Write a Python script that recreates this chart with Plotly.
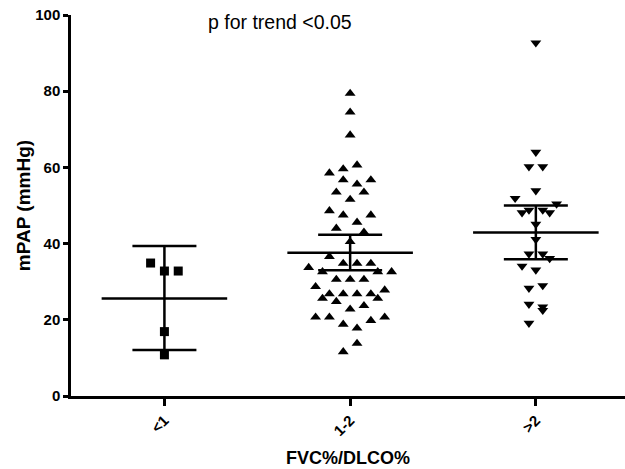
import plotly.graph_objects as go

# ---- data ----
categories = ["<1", "1-2", ">2"]

# group "<1" (squares)
g1_values = [34.9, 32.8, 32.8, 16.9, 10.8]
g1_slots = [-2, 0, 2, 0, 0]

# group "1-2" (triangles up)
g2_values = [79.4, 74.5, 68.5, 60.6, 59.6, 58.5, 56.7, 56.7, 55.6, 53.5, 53.5, 51.6,
             48.6, 47.5, 47.5, 45.6, 44.0, 43.0, 40.5, 36.6, 33.7, 34.8, 34.8, 34.8,
             32.6, 32.6, 32.6, 30.6, 30.6, 30.6, 28.7, 27.8, 26.8, 26.8, 26.8, 26.8,
             25.6, 25.6, 24.8, 23.7, 22.8, 20.7, 20.7, 20.7, 19.8, 18.8, 17.8, 13.8, 11.6]
g2_slots = [0, 0, 0, 1, -1, -3, -1, 3, 1, -2, 2, 0,
            -3, -1, 3, 1, -2, 2, 0, -3, -6, -1, 1, 3,
            -4, 4, 6, -2, 0, 2, -5, 5, -3, -1, 1, 3,
            -4, 4, -2, 2, 0, -5, -3, 5, 3, -1, 1, 1, -1]

# group ">2" (triangles down)
g3_values = [92.7, 64.0, 60.2, 60.2, 53.9, 51.9, 50.4, 48.8, 48.8, 48.1, 48.1, 45.1,
             41.1, 37.3, 37.3, 36.1, 34.1, 33.1, 29.0, 28.3, 24.1, 23.4, 22.5, 19.1]
g3_slots = [0, 0, -1, 1, 0, -3, 3, -1, 1, -2, 2, 0,
            0, -1, 1, 2, -2, 0, 1, -1, -1, 1, 1, -1]

# mean and 95% CI per group
means = [25.6, 37.6, 42.9]
ci_upper = [39.4, 42.3, 50.0]
ci_lower = [12.1, 33.0, 35.9]

y_ticks = [0, 20, 40, 60, 80, 100]

# ---- styling ----
SLOT = 0.0372      # horizontal jitter step (category units)
HALF_MEAN = 0.338  # half width of mean line (category units)
FONT = "Liberation Sans, Arial, Helvetica, sans-serif"

groups = [
    (g1_values, g1_slots, "square", 9),
    (g2_values, g2_slots, "triangle-up", 9.5),
    (g3_values, g3_slots, "triangle-down", 9.5),
]

fig = go.Figure()

for i, (vals, slots, sym, size) in enumerate(groups):
    fig.add_trace(go.Scatter(
        x=[i + s * SLOT for s in slots],
        y=vals,
        mode="markers",
        marker=dict(symbol=sym, size=size, color="black", line=dict(width=0)),
        showlegend=False,
        hoverinfo="y",
    ))

# mean lines
mx, my = [], []
for i, m in enumerate(means):
    mx += [i - HALF_MEAN, i + HALF_MEAN, None]
    my += [m, m, None]
fig.add_trace(go.Scatter(x=mx, y=my, mode="lines",
                         line=dict(color="black", width=2.5),
                         showlegend=False, hoverinfo="skip"))

# CI error bars
fig.add_trace(go.Scatter(
    x=list(range(len(categories))),
    y=means,
    mode="markers",
    marker=dict(size=1, color="rgba(0,0,0,0)"),
    error_y=dict(type="data", symmetric=False,
                 array=[u - m for u, m in zip(ci_upper, means)],
                 arrayminus=[m - l for m, l in zip(means, ci_lower)],
                 color="black", thickness=2.5, width=32),
    showlegend=False, hoverinfo="skip",
))

fig.add_annotation(text="p for trend <0.05", xref="paper", yref="paper",
                   x=0.377, y=0.982, xanchor="center", yanchor="middle",
                   showarrow=False, font=dict(family=FONT, size=19.5, color="black"))

fig.update_layout(
    width=625, height=469,
    margin=dict(l=71, r=0, t=15, b=73),
    paper_bgcolor="white", plot_bgcolor="white",
    font=dict(family=FONT, color="black"),
    xaxis=dict(
        range=[-0.503, 2.48],
        tickmode="array", tickvals=list(range(len(categories))),
        ticktext=[f"<b>{c}</b>" for c in categories],
        tickangle=-45,
        tickfont=dict(family=FONT, size=15, color="black"),
        showline=True, linecolor="black", linewidth=2.5,
        ticks="outside", ticklen=7, tickwidth=2.5, tickcolor="black",
        showgrid=False, zeroline=False, automargin=False,
        title=dict(text="<b>FVC%/DLCO%</b>", font=dict(family=FONT, size=18, color="black"),
                   standoff=14),
    ),
    yaxis=dict(
        range=[0, 100],
        tickmode="array", tickvals=y_ticks, ticktext=[f"<b>{t}</b>" for t in y_ticks],
        tickfont=dict(family=FONT, size=15, color="black"),
        showline=True, linecolor="black", linewidth=2.5,
        ticks="outside", ticklen=5, tickwidth=2.5, tickcolor="black",
        showgrid=False, zeroline=False, automargin=False,
        title=dict(text="<b>mPAP (mmHg)</b>", font=dict(family=FONT, size=19, color="black"),
                   standoff=0),
    ),
)

fig.write_html("out.html",
               config={"displayModeBar": False},
               post_script="document.body.style.margin='0';document.body.style.overflow='hidden';")
